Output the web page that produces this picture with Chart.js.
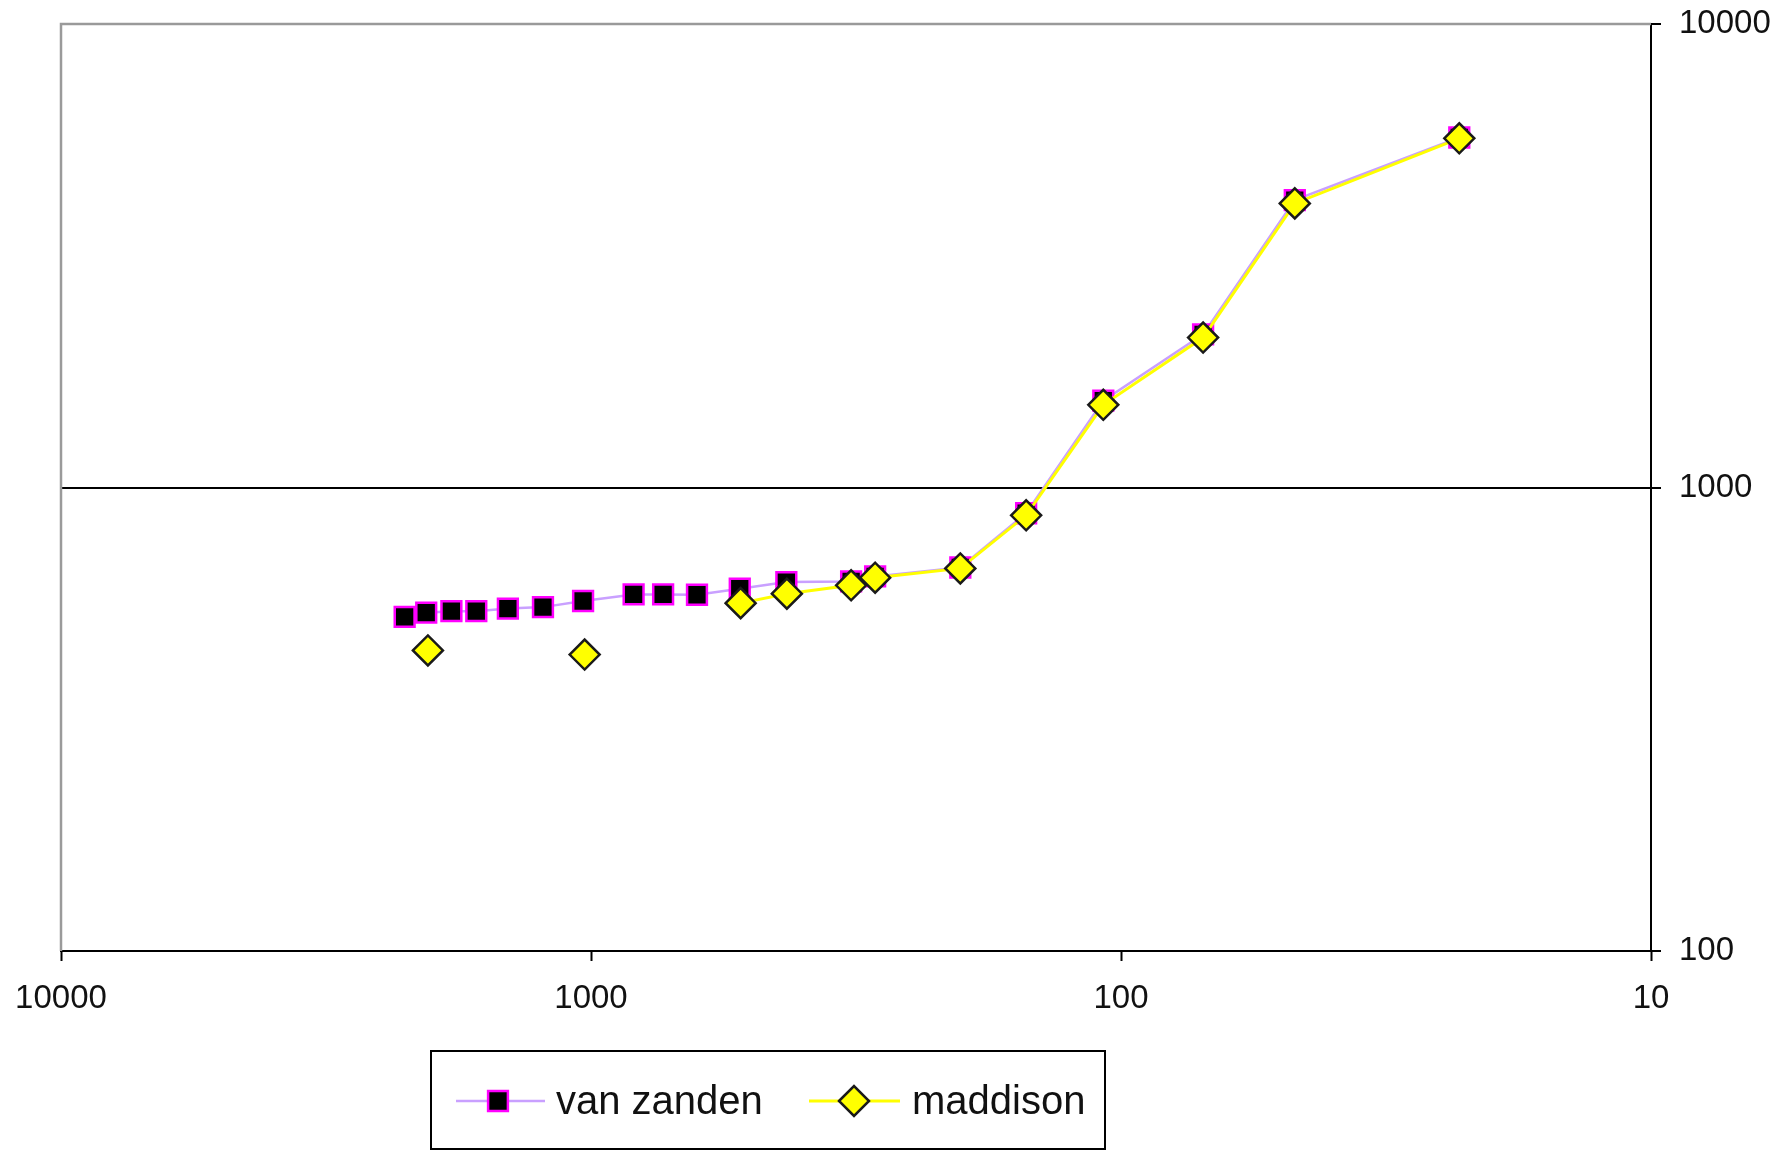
<!DOCTYPE html>
<html>
<head>
<meta charset="utf-8">
<script src="https://cdn.jsdelivr.net/npm/chart.js@4.4.1/dist/chart.umd.min.js"></script>
<style>
  html, body { margin: 0; padding: 0; background: #fff; }
  canvas { display: block; }
</style>
</head>
<body>
<canvas id="gdpChart" width="1787" height="1151"></canvas>
<script>
// values (log-log, x axis reversed)
const vanZandenX = [2247, 2046, 1834, 1646, 1435, 1232, 1035, 831, 731, 631, 524, 428, 323, 291, 201, 151, 108, 70, 47, 23];
const vanZandenY = [526, 537, 541, 541, 548, 552, 569, 588, 588, 587, 605, 625, 627, 643, 672, 880, 1540, 2140, 4170, 5690];
const maddisonX = [2031, 1028, 522, 427, 323, 291, 201, 151, 108, 70, 47, 23];
const maddisonY = [445, 436, 563, 590, 615, 639, 669, 871, 1508, 2106, 4102, 5666];
// the first maddison points stand alone (no connecting line in the source)
const maddisonUnlinked = 2;
const xTicks = [10, 100, 1000, 10000];
const yTicks = [100, 1000, 10000];

const FONT = "'Liberation Sans', Arial, sans-serif";

const toPoints = (xs, ys) => xs.map((x, i) => ({ x: x, y: ys[i] }));

// gray left/top frame of the plot area, like the Excel chart
const frame = {
  id: "frame",
  beforeDatasetsDraw(chart) {
    const { ctx, chartArea: a } = chart;
    ctx.save();
    ctx.strokeStyle = "#9a9a9a";
    ctx.lineWidth = 2.5;
    ctx.beginPath();
    ctx.moveTo(a.left, a.bottom);
    ctx.lineTo(a.left, a.top);
    ctx.lineTo(a.right, a.top);
    ctx.stroke();
    ctx.restore();
  },
};

// boxed legend sitting under the plot
const boxLegend = {
  id: "boxLegend",
  afterDraw(chart) {
    const ctx = chart.ctx;
    const y = 1101;
    ctx.save();
    ctx.strokeStyle = "#000";
    ctx.lineWidth = 2;
    ctx.strokeRect(431, 1051, 674, 98);

    const items = [
      { ds: chart.data.datasets[1], x0: 456, x1: 545, mx: 498, tx: 556 },
      { ds: chart.data.datasets[0], x0: 809, x1: 900, mx: 854, tx: 912 },
    ];
    items.forEach((it) => {
      const ds = it.ds;
      ctx.strokeStyle = ds.borderColor;
      ctx.lineWidth = ds.borderWidth;
      ctx.beginPath();
      ctx.moveTo(it.x0, y);
      ctx.lineTo(it.x1, y);
      ctx.stroke();

      ctx.fillStyle = ds.pointBackgroundColor;
      ctx.strokeStyle = ds.pointBorderColor;
      ctx.lineWidth = ds.pointBorderWidth;
      const r = ds.pointRadius;
      ctx.beginPath();
      if (ds.pointStyle === "rect") {
        const s = r * Math.SQRT1_2;
        ctx.rect(it.mx - s, y - s, 2 * s, 2 * s);
      } else {
        ctx.moveTo(it.mx - r, y);
        ctx.lineTo(it.mx, y - r);
        ctx.lineTo(it.mx + r, y);
        ctx.lineTo(it.mx, y + r);
        ctx.closePath();
      }
      ctx.fill();
      ctx.stroke();

      ctx.fillStyle = "#111";
      ctx.font = "40px " + FONT;
      ctx.textBaseline = "middle";
      ctx.fillText(ds.label, it.tx, y + 2);
    });
    ctx.restore();
  },
};

const chart = new Chart(document.getElementById("gdpChart"), {
  type: "line",
  data: {
    datasets: [
      {
        label: "maddison",
        data: toPoints(maddisonX, maddisonY),
        order: 0,
        borderColor: "#ffff00",
        borderWidth: 3,
        tension: 0,
        segment: {
          borderColor: (c) => (c.p1DataIndex <= maddisonUnlinked ? "rgba(0,0,0,0)" : undefined),
        },
        pointStyle: "rectRot",
        pointRadius: 15,
        pointHoverRadius: 15,
        pointBackgroundColor: "#ffff00",
        pointBorderColor: "#1a1a1a",
        pointBorderWidth: 2.5,
      },
      {
        label: "van zanden",
        data: toPoints(vanZandenX, vanZandenY),
        order: 1,
        borderColor: "#c9a0ff",
        borderWidth: 2.5,
        tension: 0,
        pointStyle: "rect",
        pointRadius: 14,
        pointHoverRadius: 14,
        pointBackgroundColor: "#000000",
        pointBorderColor: "#ff00ff",
        pointBorderWidth: 2.5,
      },
    ],
  },
  options: {
    responsive: false,
    animation: false,
    devicePixelRatio: 1,
    layout: {
      padding: { left: 61, top: 24, right: 0, bottom: 0 },
    },
    plugins: {
      legend: { display: false },
      tooltip: { enabled: false },
    },
    scales: {
      x: {
        type: "logarithmic",
        reverse: true,
        min: 10,
        max: 10000,
        afterBuildTicks: (scale) => {
          scale.ticks = xTicks.map((v) => ({ value: v }));
        },
        afterFit: (scale) => {
          scale.height = 200;
          scale.paddingLeft = 0;
          scale.paddingRight = 0;
        },
        grid: {
          drawOnChartArea: false,
          drawTicks: true,
          tickLength: 10,
          tickColor: "#000",
          tickWidth: 2,
        },
        border: { color: "#000", width: 2 },
        ticks: {
          autoSkip: false,
          maxRotation: 0,
          padding: 18,
          color: "#111",
          font: { family: FONT, size: 33 },
          callback: (v) => String(v),
        },
      },
      y: {
        type: "logarithmic",
        position: "right",
        min: 100,
        max: 10000,
        afterBuildTicks: (scale) => {
          scale.ticks = yTicks.map((v) => ({ value: v }));
        },
        afterFit: (scale) => {
          scale.width = 136;
          scale.paddingTop = 0;
          scale.paddingBottom = 0;
        },
        grid: {
          color: (c) => (c.tick && c.tick.value === 1000 ? "#000" : "rgba(0,0,0,0)"),
          lineWidth: 2,
          tickLength: 10,
          tickColor: "#000",
          tickWidth: 2,
        },
        border: { color: "#000", width: 2 },
        ticks: {
          padding: 18,
          color: "#111",
          font: { family: FONT, size: 33 },
          callback: (v) => String(v),
        },
      },
    },
  },
  plugins: [frame, boxLegend],
});
</script>
</body>
</html>
